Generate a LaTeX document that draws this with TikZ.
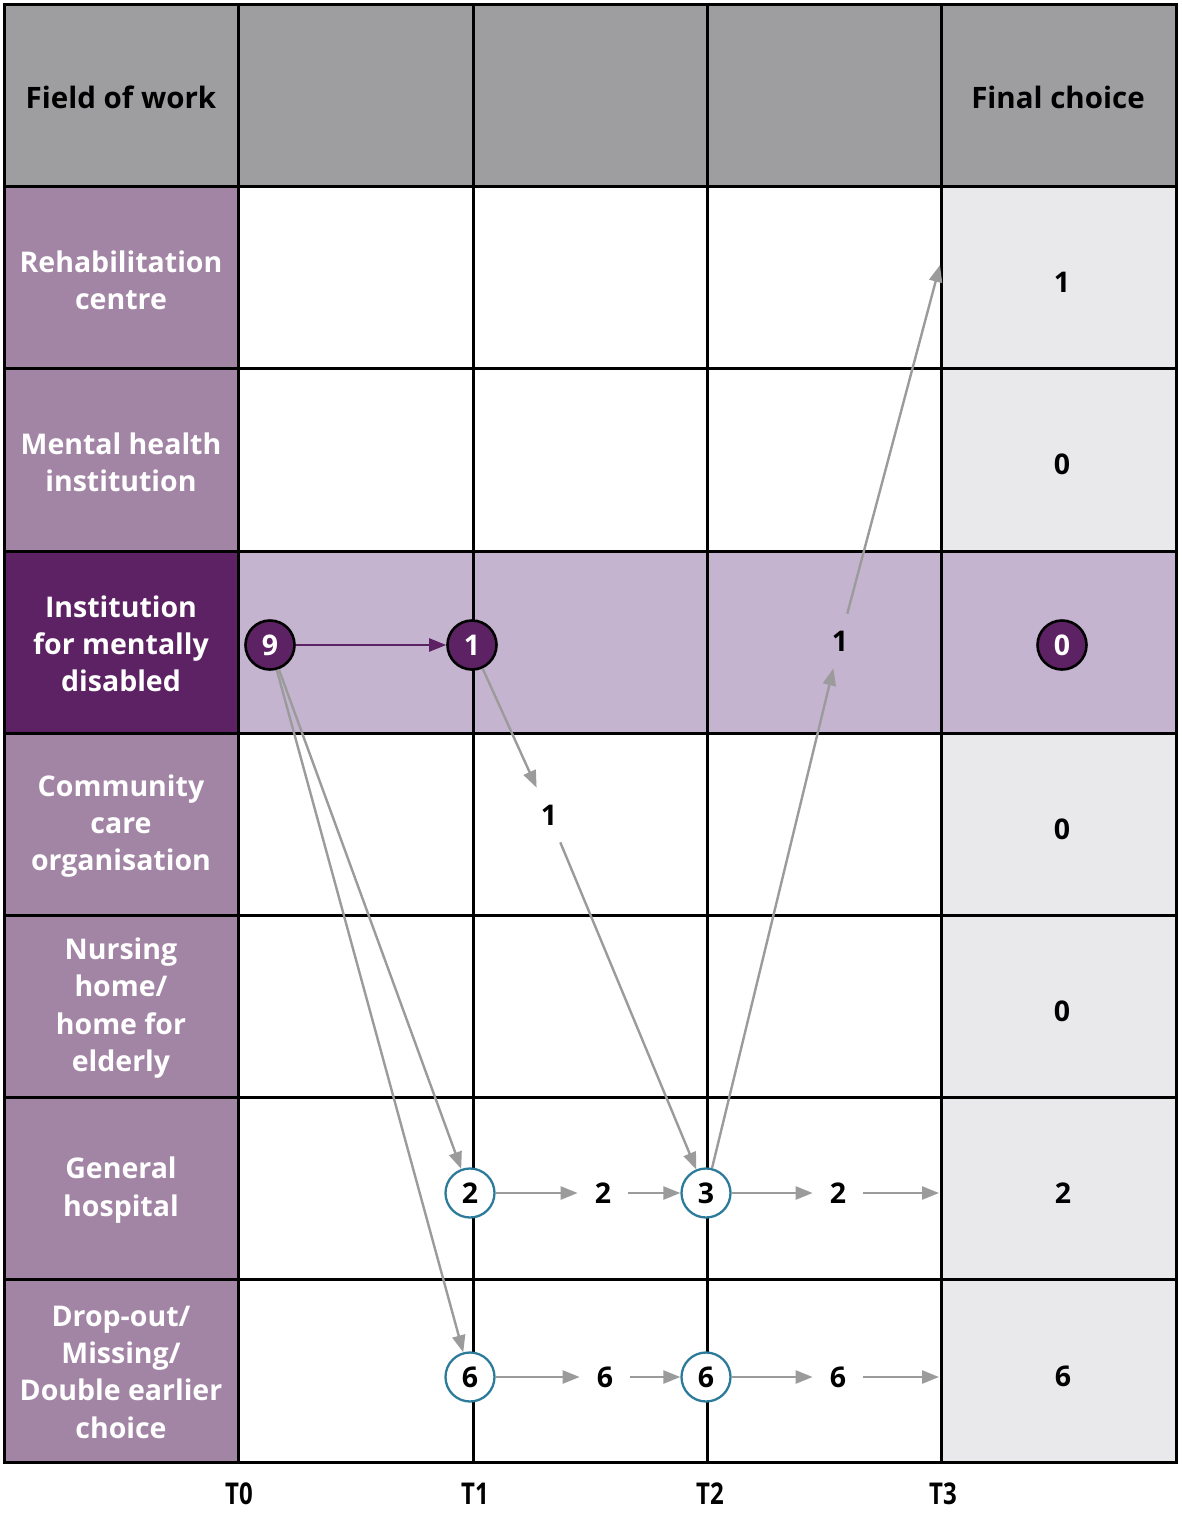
\documentclass[tikz,border=0pt]{standalone}
\usepackage{fontspec}
\setmainfont{Open Sans}
\usepackage{graphicx}
\usetikzlibrary{arrows.meta}
\definecolor{headgray}{HTML}{9E9EA0}
\definecolor{mauve}{HTML}{A285A5}
\definecolor{darkpurple}{HTML}{5C2263}
\definecolor{lightpurple}{HTML}{C4B4CF}
\definecolor{finalgray}{HTML}{E9E9EB}
\definecolor{tealc}{HTML}{2C7B9B}
\definecolor{arrowgray}{HTML}{9B9B9B}
\begin{document}
\begin{tikzpicture}[x=1pt,y=-1pt,
  gridline/.style={line width=3pt,black},
  headtext/.style={font=\fontsize{29.5}{37}\selectfont\bfseries,text=black,align=center},
  rowtext/.style={font=\fontsize{28.5}{37.3}\selectfont\bfseries,text=white,align=center},
  numtext/.style={font=\fontsize{28.5}{37}\selectfont\bfseries,text=black},
  lbl/.style={font=\fontsize{28.5}{37}\selectfont\bfseries,text=black,inner sep=17pt},
  timetext/.style={font=\fontsize{30}{32}\selectfont\bfseries,text=black,inner sep=0pt},
  pcirc/.style={circle,fill=darkpurple,draw=black,line width=2.6pt,minimum size=49pt,inner sep=0pt,font=\fontsize{28.5}{37}\selectfont\bfseries,text=white},
  tcirc/.style={circle,fill=white,draw=tealc,line width=2.3pt,minimum size=49pt,inner sep=0pt,font=\fontsize{28.5}{37}\selectfont\bfseries,text=black},
  grayarrow/.style={draw=arrowgray,line width=2.4pt,-{Triangle[length=17pt,width=13pt]}},
  purplearrow/.style={draw=darkpurple,line width=2.2pt,-{Triangle[length=17pt,width=13pt]}}
]
\useasboundingbox (0,0) rectangle (1181,1513);
% fills
\fill[white] (0,0) rectangle (1181,1513);
\fill[headgray] (4,4) rectangle (1176,186);
\fill[mauve] (4,186) rectangle (238,1462);
\fill[darkpurple] (4,551) rectangle (238,733);
\fill[lightpurple] (238,551) rectangle (941,733);
\fill[finalgray] (941,186) rectangle (1176,1462);
\fill[lightpurple] (941,551) rectangle (1176,733);
% grid
\foreach \x in {238,473,707,941} \draw[gridline] (\x,4) -- (\x,1462);
\foreach \y in {186,368,551,733,915,1097,1279} \draw[gridline] (4,\y) -- (1176,\y);
\draw[gridline] (4,4) rectangle (1176,1462);
% headers
\node[headtext] (hfield) at (121,97) {Field of work};
\node[headtext] (hfinal) at (1058,97) {Final choice};
% row labels
\node[rowtext] (r1) at (121,280) {Rehabilitation\\centre};
\node[rowtext] (r2) at (121,462) {Mental health\\institution};
\node[rowtext] (r3) at (121,644) {Institution\\for mentally\\disabled};
\node[rowtext] (r4) at (121,826) {Community\\care\\organisation};
\node[rowtext] (r5) at (121,1008) {Nursing\\home/\\home for\\elderly};
\node[rowtext] (r6) at (121,1190) {General\\hospital};
\node[rowtext] (r7) at (121,1372) {Drop-out/\\Missing/\\Double earlier\\choice};
% final choice numbers
\node[numtext] (f1) at (1062,282) {1};
\node[numtext] (f2) at (1062,464) {0};
\node[pcirc] (f3) at (1062,645) {0};
\node[numtext] (f4) at (1062,829) {0};
\node[numtext] (f5) at (1062,1011) {0};
\node[numtext] (f6) at (1063,1193) {2};
\node[numtext] (f7) at (1063,1376) {6};
% time labels
\node[timetext] (t0) at (239,1494) {\scalebox{0.8}[1]{T0}};
\node[timetext] (t1) at (475,1494) {\scalebox{0.8}[1]{T1}};
\node[timetext] (t2) at (710,1494) {\scalebox{0.8}[1]{T2}};
\node[timetext] (t3) at (943,1494) {\scalebox{0.8}[1]{T3}};
% flow circles
\node[pcirc] (c9) at (270,645) {9};
\node[pcirc] (c1) at (472,645) {1};
\node[tcirc] (c2) at (470,1193) {2};
\node[tcirc] (c3) at (706,1193) {3};
\node[tcirc] (c6a) at (470,1377) {6};
\node[tcirc] (c6b) at (706,1377) {6};
% flow labels
\node[lbl] (l1a) at (549,815) {1};
\node[lbl] (l1b) at (840,641) {1};
\node[lbl] (l2a) at (603,1193) {2};
\node[lbl] (l2b) at (838,1193) {2};
\node[lbl] (l6a) at (605,1377) {6};
\node[lbl] (l6b) at (838,1377) {6};
\coordinate (e1) at (940,265);
\coordinate (e2) at (939,1193);
\coordinate (e6) at (939,1377);
% arrows
\draw[purplearrow] (c9) -- (c1);
\draw[grayarrow] (c9) -- (c2);
\draw[grayarrow] (c9) -- (c6a);
\draw[grayarrow] (c1) -- (l1a);
\draw[grayarrow] (l1a) -- (c3);
\draw[grayarrow] (c3) -- (l1b);
\draw[grayarrow] (l1b) -- (e1);
\draw[grayarrow] (c2) -- (l2a);
\draw[grayarrow] (l2a) -- (c3);
\draw[grayarrow] (c3) -- (l2b);
\draw[grayarrow] (l2b) -- (e2);
\draw[grayarrow] (c6a) -- (l6a);
\draw[grayarrow] (l6a) -- (c6b);
\draw[grayarrow] (c6b) -- (l6b);
\draw[grayarrow] (l6b) -- (e6);
\end{tikzpicture}
\end{document}
